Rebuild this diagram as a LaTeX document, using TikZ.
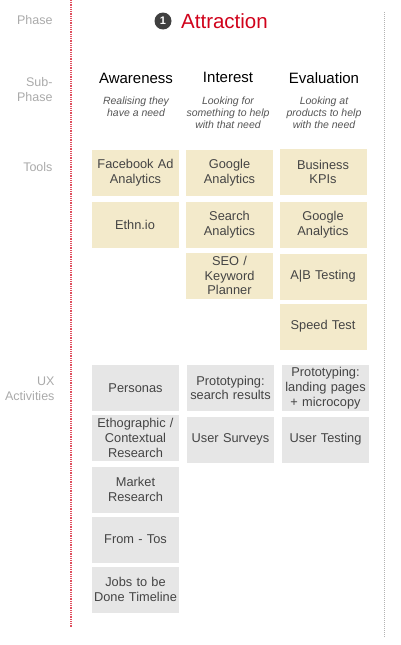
\documentclass[tikz,border=0pt]{standalone}
\usepackage{fontspec}
\setmainfont{Liberation Sans}
\definecolor{toolfill}{HTML}{F3EACB}
\definecolor{uxfill}{HTML}{E6E6E6}
\definecolor{boxtext}{HTML}{444444}
\definecolor{sidelbl}{HTML}{AAAAAA}
\definecolor{attred}{HTML}{D0021B}
\definecolor{redline}{HTML}{E0505F}
\definecolor{desc}{HTML}{555555}
\begin{document}
\begin{tikzpicture}[x=1pt,y=-1pt,
  card/.style={rectangle, inner sep=0pt, minimum width=87pt, minimum height=46pt,
    text width=84pt, align=center, text=boxtext, font=\fontsize{12.8}{14.8}\selectfont},
  toolcard/.style={card, fill=toolfill},
  uxcard/.style={card, fill=uxfill},
  side/.style={text=sidelbl, align=right, anchor=east, font=\fontsize{12.5}{15}\selectfont},
  subhead/.style={font=\fontsize{15}{18}\selectfont, text=black},
  subdesc/.style={font=\fontsize{10.5}{12}\selectfont\itshape, text=desc, align=center, anchor=north}]
\useasboundingbox (0,0) rectangle (400,645);
% divider lines
\coordinate (r1) at (71,0);
\coordinate (r2) at (71,627);
\coordinate (g1) at (384,12);
\coordinate (g2) at (384,637);
\draw[redline, line width=1.1pt, dash pattern=on 1pt off 0.8pt] (r1) -- (r2);
\draw[gray!60, line width=0.9pt, dash pattern=on 1pt off 1pt] (g1) -- (g2);
% side labels
\node[side] (lphase) at (56,20) {Phase};
\node[side] (lsub) at (56,90) {Sub-\\Phase};
\node[side] (ltools) at (56,167) {Tools};
\node[side] (lux) at (58,389) {UX\\Activities};
% title
\node[circle, fill=black!75, text=white, inner sep=0pt, minimum size=17pt,
  font=\fontsize{11}{11}\selectfont\bfseries] (num) at (163,21) {1};
\node[anchor=west, text=attred, font=\fontsize{20.5}{24}\selectfont, inner sep=0pt] (title) at (181,21) {Attraction};
% sub-phases
\node[subhead] (aw) at (136,78) {Awareness};
\node[subhead] (in) at (228,77) {Interest};
\node[subhead] (ev) at (324,78) {Evaluation};
\node[subdesc] (awd) at (136,93) {Realising they\\have a need};
\node[subdesc] (ind) at (228,93) {Looking for\\something to help\\with that need};
\node[subdesc] (evd) at (324,93) {Looking at\\products to help\\with the need};
% tools
\node[toolcard] (t11) at (135.5,173) {Facebook Ad\\Analytics};
\node[toolcard] (t12) at (135,225) {Ethn.io};
\node[toolcard] (t21) at (229.5,173) {Google\\Analytics};
\node[toolcard] (t22) at (229.5,224.5) {Search\\Analytics};
\node[toolcard] (t23) at (229.5,275.5) {SEO /\\Keyword\\Planner};
\node[toolcard] (t31) at (323,172) {Business\\KPIs};
\node[toolcard] (t32) at (323,224.5) {Google\\Analytics};
\node[toolcard] (t33) at (323,276.5) {A|B Testing};
\node[toolcard] (t34) at (323,326.5) {Speed Test};
% UX activities
\node[uxcard] (u11) at (135.5,388) {Personas};
\node[uxcard] (u12) at (135.5,438) {Ethographic /\\Contextual\\Research};
\node[uxcard] (u13) at (135.5,489.5) {Market\\Research};
\node[uxcard] (u14) at (135.5,539.5) {From - Tos};
\node[uxcard] (u15) at (135.5,589.5) {Jobs to be\\Done Timeline};
\node[uxcard] (u21) at (230.5,388) {Prototyping:\\search results};
\node[uxcard] (u22) at (230.5,439.5) {User Surveys};
\node[uxcard] (u31) at (325.5,388) {Prototyping:\\landing pages\\+ microcopy};
\node[uxcard] (u32) at (325.5,439.5) {User Testing};
\end{tikzpicture}
\end{document}
